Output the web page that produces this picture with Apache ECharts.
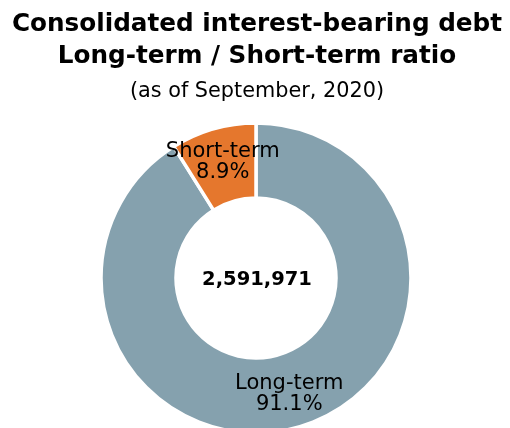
<!DOCTYPE html>
<html>
<head>
<meta charset="utf-8">
<script src="https://cdn.jsdelivr.net/npm/echarts@6/dist/echarts.min.js"></script>
<style>
  html, body { margin: 0; padding: 0; background: #fff; }
  #chart { width: 510px; height: 428px; }
</style>
</head>
<body>
<div id="chart"></div>
<script>
// data
var names = ['Long-term', 'Short-term'];
var shares = [91.1, 8.9];
var total = '2,591,971';
var colors = ['#85A1AE', '#E5772D'];

var chart = echarts.init(document.getElementById('chart'));
var option = {
  backgroundColor: '#fff',
  title: [
    {
      text: 'Consolidated interest-bearing debt\nLong-term / Short-term ratio',
      left: 252,
      textAlign: 'center',
      top: 4,
      textStyle: { fontFamily: 'DejaVu Sans', fontSize: 24.7, fontWeight: 'bold', color: '#000', lineHeight: 32 }
    },
    {
      text: '(as of September, 2020)',
      left: 252,
      textAlign: 'center',
      top: 76,
      textStyle: { fontFamily: 'DejaVu Sans', fontSize: 20.8, fontWeight: 'normal', color: '#000' }
    },
    {
      text: total,
      left: 252,
      top: 265,
      textAlign: 'center',
      textStyle: { fontFamily: 'DejaVu Sans', fontSize: 19.5, fontWeight: 'bold', color: '#000' }
    }
  ],
  series: [
    {
      type: 'pie',
      center: [256, 278],
      radius: [80, 155],
      startAngle: 90,
      clockwise: true,
      silent: true,
      itemStyle: { borderColor: '#fff', borderWidth: 3.5 },
      label: {
        show: true,
        position: 'inside',
        formatter: function (p) { return p.name + '\n' + p.value.toFixed(1) + '%'; },
        fontFamily: 'DejaVu Sans',
        fontSize: 21,
        lineHeight: 21,
        color: '#000'
      },
      labelLine: { show: false },
      data: names.map(function (n, i) {
        return { name: n, value: shares[i], itemStyle: { color: colors[i] } };
      })
    }
  ]
};
chart.setOption(option);
</script>
</body>
</html>
